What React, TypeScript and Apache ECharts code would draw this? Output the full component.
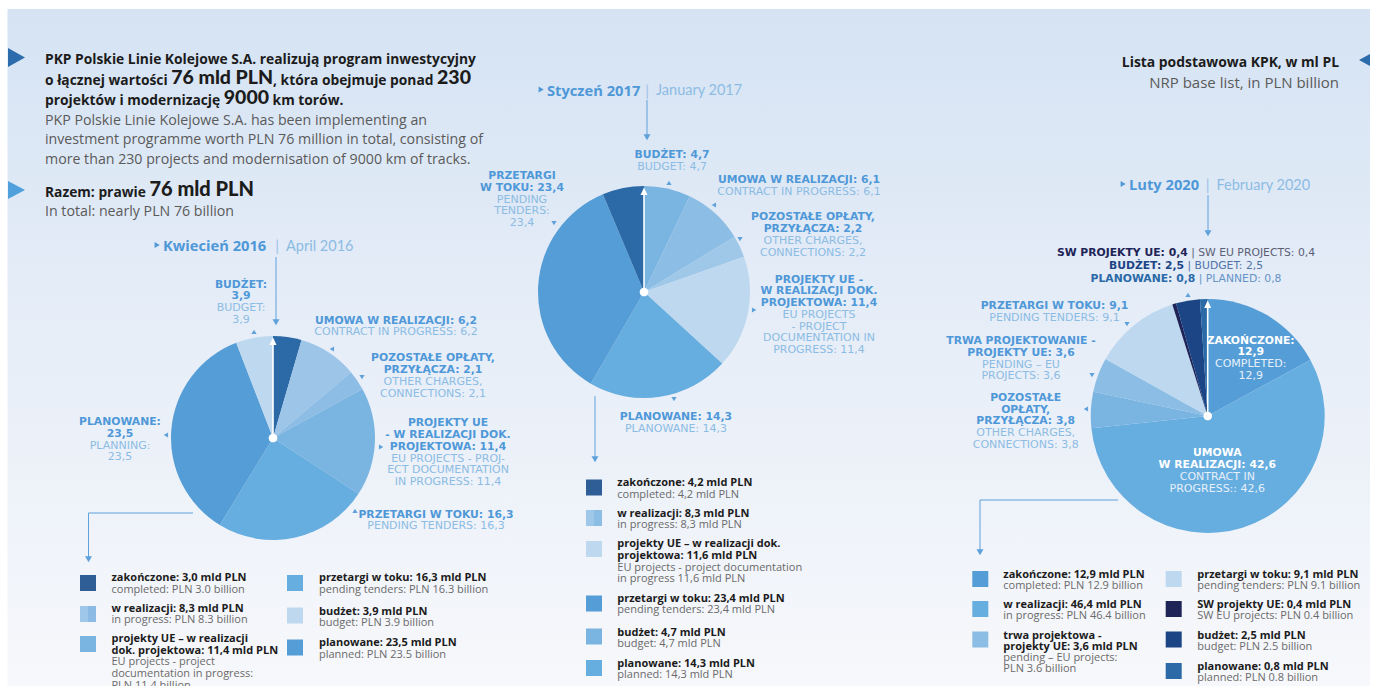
import React, { useEffect, useRef } from "react";
import * as echarts from "echarts";

const W = 1375;
const H = 686;
const FONT = "'Open Sans', Lato, sans-serif";
const HEAVY = "Lato, 'Open Sans', sans-serif";
const CAPS = "'DejaVu Sans', sans-serif";

// ---------- April 2016 ----------
const aprNames = ["zakończone", "umowa w realizacji", "pozostałe opłaty, przyłącza", "projekty UE – w realizacji dok. projektowa", "przetargi w toku", "planowane", "budżet"];
const aprValues = [3.0, 6.2, 2.1, 11.4, 16.3, 23.5, 3.9];
const aprColors = ["#2b6aa7", "#9dc5e8", "#8dbde5", "#7ab4e1", "#66ade0", "#559dd6", "#bdd8ef"];

const aprLegendPl = ["zakończone", "w realizacji", "projekty UE – w realizacji\ndok. projektowa", "przetargi w toku", "budżet", "planowane"];
const aprLegendEn = ["completed: PLN {en} billion", "in progress: PLN {en} billion", "EU projects - project\ndocumentation in progress:\nPLN {pl} billion", "pending tenders: PLN {en} billion", "budget: PLN {en} billion", "planned: PLN {en} billion"];
const aprLegendValues = [3.0, 8.3, 11.4, 16.3, 3.9, 23.5];
const aprLegendColors = [["#2f5e96"], ["#9fc7e9", "#8bbbe5"], ["#7ab4e1"], ["#66ade0"], ["#bdd8ef"], ["#559dd6"]];

// ---------- January 2017 ----------
const janNames = ["budżet", "umowa w realizacji", "pozostałe opłaty, przyłącza", "projekty UE – w realizacji dok. projektowa", "planowane", "przetargi w toku", "zakończone"];
const janValues = [4.7, 6.1, 2.2, 11.4, 14.3, 23.4, 4.2];
const janColors = ["#7ab4e1", "#8cbde5", "#9ec7e8", "#bdd8ef", "#66ade0", "#559dd6", "#2b6aa7"];

const janLegendPl = ["zakończone", "w realizacji", "projekty UE – w realizacji dok.\nprojektowa", "przetargi w toku", "budżet", "planowane"];
const janLegendEn = ["completed: {pl} mld PLN", "in progress: {pl} mld PLN", "EU projects - project documentation\nin progress {pl} mld PLN", "pending tenders: {pl} mld PLN", "budget: {pl} mld PLN", "planned: {pl} mld PLN"];
const janLegendValues = [4.2, 8.3, 11.6, 23.4, 4.7, 14.3];
const janLegendColors = [["#2f5e96"], ["#9ec7e8", "#8cbde5"], ["#bdd8ef"], ["#559dd6"], ["#7ab4e1"], ["#66ade0"]];

// ---------- February 2020 ----------
const febNames = ["zakończone", "umowa w realizacji", "pozostałe opłaty, przyłącza", "trwa projektowanie – projekty UE", "przetargi w toku", "SW projekty UE", "budżet", "planowane"];
const febValues = [12.9, 42.6, 3.8, 3.6, 9.1, 0.4, 2.5, 0.8];
const febColors = ["#559dd6", "#66ade0", "#7ab4e1", "#8cbde5", "#bdd8ef", "#1e2457", "#1b4585", "#2b6aa7"];

const febLegendPl = ["zakończone", "w realizacji", "trwa projektowa -\nprojekty UE", "przetargi w toku", "SW projekty UE", "budżet", "planowane"];
const febLegendEn = ["completed: PLN {en} billion", "in progress: PLN {en} billion", "pending – EU projects:\nPLN {en} billion", "pending tenders: PLN {en} billion", "SW EU projects: PLN {en} billion", "budget: PLN {en} billion", "planned: PLN {en} billion"];
const febLegendValues = [12.9, 46.4, 3.6, 9.1, 0.4, 2.5, 0.8];
const febLegendColors = [["#559dd6"], ["#66ade0"], ["#8cbde5"], ["#bdd8ef"], ["#1e2457"], ["#1b4585"], ["#2b6aa7"]];

const fmt = (v: number) => v.toFixed(1).replace(".", ",");
const fmtEn = (v: number) => v.toFixed(1);

const BLUE_B = "#4f98d8";
const BLUE_R = "#8cbce4";
const LINE_C = "#5ea1db";
const DARK = "#1c1c1c";
const GREY = "#5a5a5a";

type Ln = [string, "b" | "r"];

function App() {
  const ref = useRef<HTMLDivElement>(null);

  useEffect(() => {
    document.body.style.margin = "0";
    const chart = echarts.init(ref.current!, null, { renderer: "svg" });
    const els: any[] = [];

    const text = (x: number, y: number, t: string, o: any) => {
      const align = o.align || "left";
      const va = o.va || "middle";
      els.push({
        type: "text", x, y, z: 20, silent: true,
        style: {
          text: t, fill: o.color, fontSize: o.size, fontWeight: o.weight || "normal",
          fontFamily: o.family || FONT, align, verticalAlign: va,
          textAlign: align, textVerticalAlign: va, rich: o.rich, lineHeight: o.lh,
        },
      });
    };
    const tri = (x: number, y: number, dir: string, s: number, color: string) => {
      let pts: number[][];
      if (dir === "up") pts = [[x - s, y + s * 0.8], [x + s, y + s * 0.8], [x, y - s * 0.9]];
      else if (dir === "down") pts = [[x - s, y - s * 0.8], [x + s, y - s * 0.8], [x, y + s * 0.9]];
      else if (dir === "left") pts = [[x + s * 0.8, y - s], [x + s * 0.8, y + s], [x - s * 0.9, y]];
      else pts = [[x - s * 0.8, y - s], [x - s * 0.8, y + s], [x + s * 0.9, y]];
      els.push({ type: "polygon", z: 20, silent: true, shape: { points: pts }, style: { fill: color } });
    };
    const seg = (pts: number[][], color = LINE_C, w = 1) => {
      els.push({ type: "polyline", z: 20, silent: true, shape: { points: pts }, style: { stroke: color, lineWidth: w, fill: "none" } });
    };
    // multi-line label as one rich text element
    const block = (cx: number, y0: number, lh: number, lines: Ln[], cB = BLUE_B, cR = BLUE_R, align = "center") => {
      const t = lines.map((l) => `{${l[1]}|${l[0]}}`).join("\n");
      text(cx, y0 - lh / 2, t, {
        color: cB, size: 10.8, family: CAPS, align, va: "top", lh,
        rich: {
          b: { fontSize: 10.8, fontWeight: "bold", fontFamily: CAPS, fill: cB, lineHeight: lh, align },
          r: { fontSize: 11, fontWeight: "normal", fontFamily: CAPS, fill: cR, lineHeight: lh, align },
        },
      });
    };
    const legend = (items: number[][], pl: string[], en: string[], vals: number[], cols: string[][], lh: number) => {
      items.forEach((it, i) => {
        const [sx, sy, tx, ty] = it;
        const c = cols[i];
        if (c.length === 1) {
          els.push({ type: "rect", z: 20, silent: true, shape: { x: sx, y: sy, width: 16, height: 16 }, style: { fill: c[0] } });
        } else {
          els.push({ type: "rect", z: 20, silent: true, shape: { x: sx, y: sy, width: 8, height: 16 }, style: { fill: c[0] } });
          els.push({ type: "rect", z: 20, silent: true, shape: { x: sx + 8, y: sy, width: 8, height: 16 }, style: { fill: c[1] } });
        }
        const bold = `${pl[i]}: ${fmt(vals[i])} mld PLN`.split("\n");
        const reg = en[i].replace("{en}", fmtEn(vals[i])).replace("{pl}", fmt(vals[i])).split("\n");
        const t = [...bold.map((b) => `{b|${b}}`), ...reg.map((r) => `{r|${r}}`)].join("\n");
        text(tx, ty - lh / 2, t, {
          color: DARK, size: 11, va: "top", lh,
          rich: {
            b: { fontSize: 11, fontWeight: "bold", fontFamily: FONT, fill: DARK, lineHeight: lh },
            r: { fontSize: 11, fontWeight: "normal", fontFamily: FONT, fill: "#6a6a6a", lineHeight: lh },
          },
        });
      });
    };

    // background card
    els.push({
      type: "rect", z: 0, silent: true, shape: { x: 7.5, y: 9, width: 1362.5, height: 677 },
      style: {
        fill: { type: "linear", x: 0, y: 0, x2: 0, y2: 1, colorStops: [
          { offset: 0, color: "#d5e3f3" }, { offset: 0.5, color: "#e7eef8" }, { offset: 1, color: "#f7f8fb" },
        ] },
      },
    });

    // header left
    els.push({ type: "polygon", z: 20, silent: true, shape: { points: [[8, 48], [8, 67], [25, 57.5]] }, style: { fill: "#2c6cad" } });
    els.push({ type: "polygon", z: 20, silent: true, shape: { points: [[8, 181], [8, 199], [25, 190]] }, style: { fill: "#4fa0dc" } });
    const BS = 13.8;
    const hb = { fontSize: BS, fontWeight: "bold", fontFamily: FONT, fill: DARK, verticalAlign: "bottom", lineHeight: 18 };
    const hbig = { fontSize: 19.5, fontWeight: 900, fontFamily: HEAVY, fill: DARK, verticalAlign: "bottom", lineHeight: 18 };
    text(45, 58.5, "PKP Polskie Linie Kolejowe S.A. realizują program inwestycyjny", { color: DARK, size: BS, weight: "bold" });
    text(45, 77.5, "{b|o łącznej wartości }{g|76 mld PLN}{b|, która obejmuje ponad }{g|230}", { color: DARK, size: BS, rich: { b: hb, g: hbig } });
    text(45, 97, "{b|projektów i modernizację }{g|9000}{b| km torów.}", { color: DARK, size: BS, rich: { b: hb, g: hbig } });
    text(45, 119, "PKP Polskie Linie Kolejowe S.A. has been implementing an", { color: GREY, size: 14.2 });
    text(45, 138.5, "investment programme worth PLN 76 million in total, consisting of", { color: GREY, size: 14.2 });
    text(45, 158, "more than 230 projects and modernisation of 9000 km of tracks.", { color: GREY, size: 14.2 });
    text(45, 189, "{b|Razem: prawie }{g|76 mld PLN}", { color: DARK, size: BS, rich: { b: hb, g: { ...hbig, fontSize: 20 } } });
    text(45, 210, "In total: nearly PLN 76 billion", { color: GREY, size: 14.2 });

    // header right
    text(1339, 61, "Lista podstawowa KPK, w ml PL", { color: DARK, size: 13.9, weight: "bold", align: "right" });
    text(1339, 81.5, "NRP base list, in PLN billion", { color: GREY, size: 15, align: "right" });
    els.push({ type: "polygon", z: 20, silent: true, shape: { points: [[1370, 54], [1370, 66], [1359, 60]] }, style: { fill: "#2c6cad" } });

    // titles
    const title = (tx: number, ty: number, pl: string, barX: number, en: string) => {
      tri(tx - 6, ty, "right", 3, BLUE_B);
      text(tx, ty, pl, { color: BLUE_B, size: 14.7, weight: "bold" });
      text(barX, ty, "|", { color: "#9dc3e6", size: 15, align: "center", family: HEAVY });
      text(barX + 9, ty, en, { color: "#8cbce4", size: 14.5, family: HEAVY });
    };
    title(163, 245, "Kwiecień 2016", 277, "April 2016");
    title(547, 89.5, "Styczeń 2017", 647, "January 2017");
    title(1129, 184, "Luty 2020", 1207.5, "February 2020");

    // connectors
    seg([[276, 257], [276, 320]]); tri(276, 322, "down", 3.5, LINE_C);
    seg([[193, 513], [88.5, 513], [88.5, 557]]); tri(88.5, 559, "down", 3.5, LINE_C);
    seg([[647, 100], [647, 135]]); tri(647, 137, "down", 3.5, LINE_C);
    seg([[595, 396], [595, 457]]); tri(595, 459, "down", 3.5, LINE_C);
    seg([[1208, 195], [1208, 231]]); tri(1208, 233, "down", 3.5, LINE_C);
    seg([[1118, 500], [980, 500], [980, 550]]); tri(980, 552, "down", 3.5, LINE_C);

    // small markers
    const mk: [number, number, string][] = [
      [254, 332, "up"], [332, 349, "left"], [362, 377, "down"], [381, 447, "right"], [355, 511, "up"], [166, 435, "left"],
      [669, 183, "up"], [714, 205, "left"], [740, 239, "down"], [754, 310, "right"], [674, 399, "down"], [554, 223, "down"],
      [1188, 295, "up"], [1127, 324, "down"], [1092, 375, "down"], [1086, 409, "left"],
    ];
    mk.forEach((m) => tri(m[0], m[1], m[2], 2.6, LINE_C));

    // pie labels April 2016
    const a = aprValues;
    block(241, 284.3, 11.7, [["BUDŻET:", "b"], [fmt(a[6]), "b"], ["BUDGET:", "r"], [fmt(a[6]), "r"]]);
    block(396, 320, 11.5, [[`UMOWA W REALIZACJI: ${fmt(a[1])}`, "b"], [`CONTRACT IN PROGRESS: ${fmt(a[1])}`, "r"]]);
    block(433, 357.7, 11.8, [["POZOSTAŁE OPŁATY,", "b"], [`PRZYŁĄCZA: ${fmt(a[2])}`, "b"], ["OTHER CHARGES,", "r"], [`CONNECTIONS: ${fmt(a[2])}`, "r"]]);
    block(448, 422.7, 11.8, [["PROJEKTY UE", "b"], ["- W REALIZACJI DOK.", "b"], [`PROJEKTOWA: ${fmt(a[3])}`, "b"], ["EU PROJECTS - PROJ-", "r"], ["ECT DOCUMENTATION", "r"], [`IN PROGRESS: ${fmt(a[3])}`, "r"]]);
    block(436, 514, 11.7, [[`PRZETARGI W TOKU: ${fmt(a[4])}`, "b"], [`PENDING TENDERS: ${fmt(a[4])}`, "r"]]);
    block(120, 421.7, 11.7, [["PLANOWANE:", "b"], [fmt(a[5]), "b"], ["PLANNING:", "r"], [fmt(a[5]), "r"]]);

    // pie labels January 2017
    const j = janValues;
    block(672, 154.3, 12.3, [[`BUDŻET: ${fmt(j[0])}`, "b"], [`BUDGET: ${fmt(j[0])}`, "r"]]);
    block(799, 179, 12, [[`UMOWA W REALIZACJI: ${fmt(j[1])}`, "b"], [`CONTRACT IN PROGRESS: ${fmt(j[1])}`, "r"]]);
    block(813, 216.7, 12, [["POZOSTAŁE OPŁATY,", "b"], [`PRZYŁĄCZA: ${fmt(j[2])}`, "b"], ["OTHER CHARGES,", "r"], [`CONNECTIONS: ${fmt(j[2])}`, "r"]]);
    block(819, 279, 11.8, [["PROJEKTY UE -", "b"], ["W REALIZACJI DOK.", "b"], [`PROJEKTOWA: ${fmt(j[3])}`, "b"], ["EU PROJECTS", "r"], ["- PROJECT", "r"], ["DOCUMENTATION IN", "r"], [`PROGRESS: ${fmt(j[3])}`, "r"]]);
    block(676, 416, 12, [[`PLANOWANE: ${fmt(j[4])}`, "b"], [`PLANOWANE: ${fmt(j[4])}`, "r"]]);
    block(522, 175.3, 11.85, [["PRZETARGI", "b"], [`W TOKU: ${fmt(j[5])}`, "b"], ["PENDING", "r"], ["TENDERS:", "r"], [fmt(j[5]), "r"]]);

    // pie labels February 2020
    const f = febValues;
    const capsRich = (c1: string, c2: string) => ({
      b: { fontSize: 10.8, fontWeight: "bold", fontFamily: CAPS, fill: c1 },
      r: { fontSize: 10.8, fontWeight: "normal", fontFamily: CAPS, fill: c2 },
    });
    text(1186, 252.3, `{b|SW PROJEKTY UE: ${fmt(f[5])}}{r| | SW EU PROJECTS: ${fmt(f[5])}}`, { color: "#1e2457", size: 10.8, align: "center", rich: capsRich("#1e2457", "#5c6075") });
    text(1186, 265.7, `{b|BUDŻET: ${fmt(f[6])}}{r| | BUDGET: ${fmt(f[6])}}`, { color: "#1b4585", size: 10.8, align: "center", rich: capsRich("#1b4585", "#4f73a8") });
    text(1186, 278.3, `{b|PLANOWANE: ${fmt(f[7])}}{r| | PLANNED: ${fmt(f[7])}}`, { color: "#2b6aa7", size: 10.8, align: "center", rich: capsRich("#2b6aa7", "#6593c6") });
    block(1054.5, 305.7, 12, [[`PRZETARGI W TOKU: ${fmt(f[4])}`, "b"], [`PENDING TENDERS: ${fmt(f[4])}`, "r"]]);
    block(1021, 340.3, 11.9, [["TRWA PROJEKTOWANIE -", "b"], [`PROJEKTY UE: ${fmt(f[3])}`, "b"], ["PENDING – EU", "r"], [`PROJECTS: ${fmt(f[3])}`, "r"]]);
    block(1025.7, 397.3, 11.75, [["POZOSTAŁE", "b"], ["OPŁATY,", "b"], [`PRZYŁĄCZA: ${fmt(f[2])}`, "b"], ["OTHER CHARGES,", "r"], [`CONNECTIONS: ${fmt(f[2])}`, "r"]]);
    block(1250.7, 340, 11.7, [["ZAKOŃCZONE:", "b"], [fmt(f[0]), "b"], ["COMPLETED:", "r"], [fmt(f[0]), "r"]], "#ffffff", "#e6f0fa");
    block(1217.3, 452.3, 12, [["UMOWA", "b"], [`W REALIZACJI: ${fmt(f[1])}`, "b"], ["CONTRACT IN", "r"], [`PROGRESS:: ${fmt(f[1])}`, "r"]], "#ffffff", "#e6f0fa");

    // legends
    legend([[80, 575, 111.5, 576.7], [80, 606, 111.5, 607.3], [80, 636, 111.5, 637.7], [287, 575, 319, 576.7], [287, 607.5, 319, 610], [287, 639.5, 319, 641.7]],
      aprLegendPl, aprLegendEn, aprLegendValues, aprLegendColors, 11.6);
    legend([[586, 479.5, 617.3, 481.7], [586, 510, 617.3, 512.3], [586, 541, 617.3, 542.7], [586, 595.5, 617.3, 597.3], [586, 628.5, 617.3, 631], [586, 660, 617.3, 662.3]],
      janLegendPl, janLegendEn, janLegendValues, janLegendColors, 11.7);
    legend([[972.3, 571, 1003.3, 573.3], [972.3, 601, 1003.3, 603.3], [972.3, 631.5, 1003.3, 634], [1165.7, 571, 1197.3, 573.3], [1165.7, 601, 1197.3, 603.3], [1165.7, 631.5, 1197.3, 634], [1165.7, 663, 1197.3, 665]],
      febLegendPl, febLegendEn, febLegendValues, febLegendColors, 11.3);

    // pie overlays: white arrow + centre dot
    const overlay = (cx: number, cy: number, r: number) => {
      els.push({ type: "line", z: 30, silent: true, shape: { x1: cx, y1: cy, x2: cx, y2: cy - r + 6 }, style: { stroke: "#ffffff", lineWidth: 1.6 } });
      els.push({ type: "polygon", z: 30, silent: true, shape: { points: [[cx - 3.5, cy - r + 9], [cx + 3.5, cy - r + 9], [cx, cy - r + 1.5]] }, style: { fill: "#ffffff" } });
      els.push({ type: "circle", z: 30, silent: true, shape: { cx, cy, r: 4.3 }, style: { fill: "#ffffff" } });
    };
    overlay(273, 438, 102);
    overlay(644, 292, 106);
    overlay(1207.7, 416, 117);

    const pie = (center: number[], r: number, names: string[], values: number[], colors: string[]) => ({
      type: "pie", center, radius: [0, r], startAngle: 90, clockwise: true, silent: true, z: 5,
      avoidLabelOverlap: false, label: { show: false }, labelLine: { show: false },
      emphasis: { disabled: true }, itemStyle: { borderWidth: 0 },
      data: names.map((n, i) => ({ name: n, value: values[i], itemStyle: { color: colors[i] } })),
    });

    chart.setOption({
      animation: false,
      backgroundColor: "#ffffff",
      tooltip: { show: false },
      series: [
        pie([273, 438], 102, aprNames, aprValues, aprColors),
        pie([644, 292], 106, janNames, janValues, janColors),
        pie([1207.7, 416], 117, febNames, febValues, febColors),
      ],
      graphic: { elements: els },
    });
    return () => chart.dispose();
  }, []);

  return (
    <div style={{ position: "fixed", left: 0, top: 0, width: W, height: H }}>
      <div ref={ref} style={{ width: W, height: H }} />
    </div>
  );
}

export default App;
